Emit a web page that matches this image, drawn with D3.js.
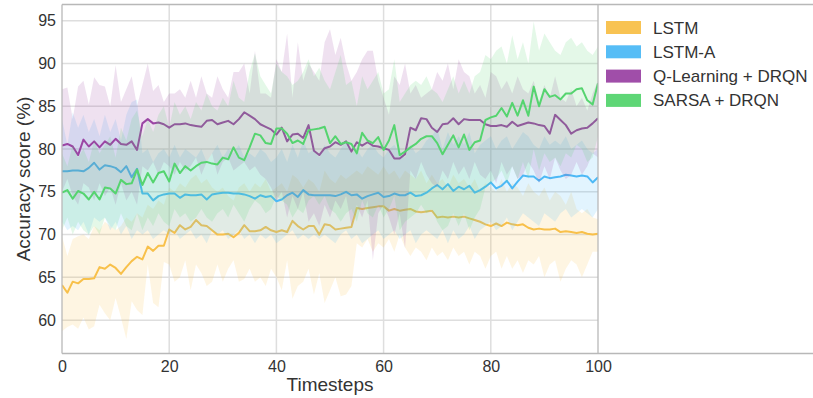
<!DOCTYPE html>
<html><head><meta charset="utf-8">
<script src="https://cdn.jsdelivr.net/npm/d3@7"></script>
<style>body{margin:0;background:#fff}svg{display:block}text{font-family:"Liberation Sans",Arial,sans-serif;fill:#333}</style>
</head><body><svg id="c" width="813" height="398"></svg>
<script>
const seriesNames = ["LSTM", "LSTM-A", "Q-Learning + DRQN", "SARSA + DRQN"];
const seriesColors = ["#f8c04a", "#4db9f6", "#9b45a4", "#55d46f"];
const xTicks = [0, 20, 40, 60, 80, 100];
const yTicks = [60, 65, 70, 75, 80, 85, 90, 95];

const lstmMean = [64.1,63.2,64.5,64.3,64.8,64.8,64.9,66.2,66.0,66.5,66.1,65.4,66.2,66.9,67.4,67.1,68.6,68.1,68.7,68.7,70.6,70.2,71.1,70.6,70.9,71.7,71.1,71.0,70.5,70.0,70.0,70.1,69.7,70.2,71.1,70.4,70.4,70.5,70.9,70.5,70.3,70.5,70.3,71.6,71.0,70.6,71.0,71.0,70.0,71.2,71.1,70.6,70.7,70.8,70.9,73.1,73.0,73.1,73.2,73.3,73.3,72.8,73.0,72.8,72.9,73.0,72.7,72.6,72.7,72.8,72.0,72.1,72.0,72.1,72.0,72.1,71.9,71.7,71.5,71.2,71.0,71.3,71.0,71.4,71.2,71.1,71.2,70.8,70.6,70.7,70.6,70.6,70.7,70.3,70.4,70.3,70.2,70.3,70.1,70.0,70.1];
const lstmLow = [58.7,59.2,59.5,59.0,60.3,58.9,59.3,61.8,60.8,60.0,62.6,60.3,57.8,62.2,61.2,60.6,66.5,62.0,61.5,66.8,66.5,64.5,65.0,67.0,63.5,66.5,65.5,64.0,64.5,66.5,64.5,66.0,67.0,64.5,64.8,66.0,64.5,65.0,64.0,66.0,65.0,63.5,67.0,62.5,64.0,64.5,66.0,63.0,65.5,62.0,63.5,65.0,62.8,63.0,64.0,69.0,68.5,69.5,68.0,69.0,68.5,69.5,68.0,70.0,68.5,67.5,68.5,68.0,67.0,68.5,67.5,68.0,67.0,68.5,67.5,68.0,66.5,68.0,67.5,66.0,67.5,68.0,66.0,67.5,66.0,67.0,65.5,67.0,66.5,67.5,65.0,66.5,67.0,64.5,66.0,67.0,66.5,65.0,66.5,68.0,68.0];
const lstmHigh = [69.8,67.5,69.5,69.8,70.0,69.5,71.0,70.5,71.5,71.0,70.5,71.0,72.0,71.5,72.5,72.0,73.5,73.0,74.0,73.5,75.5,75.0,76.0,75.5,76.5,77.0,76.0,76.5,75.5,75.0,75.5,74.5,74.0,75.5,76.0,75.0,76.0,75.5,76.5,75.0,75.5,76.0,75.0,77.0,76.5,75.5,76.5,76.0,75.0,77.5,76.5,76.0,77.0,76.5,77.0,77.5,77.0,78.0,77.5,77.0,78.0,77.0,77.5,76.5,77.5,77.0,76.5,77.5,76.0,77.0,76.0,76.5,75.5,77.0,76.0,76.5,75.5,76.5,75.0,76.0,75.5,75.0,76.5,75.0,76.0,75.5,74.5,76.0,75.0,74.5,75.5,74.0,75.0,74.5,73.5,75.0,73.0,72.5,73.0,72.0,71.8];

const lstmAMean = [77.4,77.4,77.5,77.5,77.4,77.8,78.4,77.6,78.1,78.0,77.8,77.3,78.0,76.7,77.7,74.8,74.8,74.0,74.5,74.7,74.8,74.8,74.3,74.7,74.6,74.6,74.7,74.1,74.7,74.8,74.9,74.9,74.8,74.8,74.7,74.5,74.2,74.6,74.4,74.5,73.9,74.1,74.6,74.9,74.4,75.2,74.7,74.6,74.6,74.6,74.6,74.5,74.7,75.0,74.6,74.7,74.2,74.5,74.7,74.9,74.4,74.5,74.8,74.6,74.6,74.9,74.5,74.6,74.9,75.4,75.8,75.3,75.9,75.1,75.6,75.3,75.7,74.9,75.2,75.6,76.1,75.4,75.7,76.3,75.4,76.2,76.9,76.8,76.8,76.3,76.8,76.6,76.7,76.8,77.0,76.9,76.8,76.9,76.8,76.1,76.7];
const lstmALow = [71.5,70.5,71.0,70.5,71.5,70.0,72.0,71.5,72.0,70.5,71.5,70.0,71.0,69.5,70.5,70.0,70.5,69.5,70.0,70.5,70.0,70.5,69.5,70.0,70.5,69.5,70.0,69.0,70.5,70.0,70.5,69.5,70.0,70.5,69.5,70.0,69.0,70.0,69.5,70.0,69.0,69.5,70.0,70.5,69.5,70.0,69.5,70.0,69.5,70.0,69.5,69.0,70.0,70.5,69.5,70.0,69.0,69.5,70.0,70.5,69.5,70.0,70.5,69.5,70.0,70.5,69.0,70.0,70.5,70.0,69.5,70.5,69.0,70.5,69.5,70.0,71.0,69.5,70.5,71.0,71.5,70.5,71.0,72.0,70.5,71.5,72.5,72.0,71.5,71.0,72.5,72.0,71.5,72.5,73.0,72.0,72.5,73.0,72.5,72.0,73.0];
const lstmAHigh = [83.5,80.5,84.3,82.5,84.0,82.0,83.5,81.5,84.0,82.0,83.5,81.0,84.0,85.5,85.8,79.5,80.0,78.5,79.5,80.0,79.0,80.5,79.0,80.0,79.5,79.0,80.0,78.5,79.5,80.5,79.0,80.0,79.5,80.5,79.0,79.5,79.0,80.0,79.5,78.5,79.0,80.0,78.5,80.5,79.0,81.0,79.5,80.0,79.0,80.5,79.5,79.0,80.0,81.0,79.5,80.0,79.0,80.0,80.5,79.5,79.0,80.0,80.5,79.5,79.0,80.5,79.5,80.0,81.0,81.5,82.5,80.0,82.0,80.5,81.5,80.5,82.0,79.5,80.5,81.0,81.5,80.0,81.0,81.5,80.0,81.0,82.0,81.5,80.5,80.0,81.5,80.5,81.0,80.5,81.5,80.0,80.5,81.0,80.0,79.5,80.0];

const qMean = [80.4,80.6,80.3,79.3,81.1,80.3,80.9,80.2,80.9,80.5,81.2,80.6,80.5,80.9,79.9,83.0,83.5,83.0,83.1,82.9,82.5,82.9,82.9,83.0,82.8,82.7,82.6,83.3,83.4,82.9,83.1,83.3,82.9,83.5,84.3,83.9,83.5,82.9,82.6,82.3,81.7,82.5,80.9,81.7,81.8,81.3,82.8,79.8,79.3,80.1,80.3,80.8,80.5,80.9,79.7,80.8,80.4,80.8,80.4,80.3,80.1,79.9,78.9,78.9,79.4,82.5,82.2,83.6,83.5,82.5,82.0,82.9,83.0,83.6,82.9,83.5,83.4,83.4,83.4,82.9,82.7,82.7,82.8,82.6,83.2,82.7,82.9,83.1,83.0,82.8,82.7,81.8,84.0,83.4,82.8,81.8,82.2,82.4,82.5,83.0,83.6];
const qLow = [75.0,76.5,74.5,73.5,76.0,75.5,74.0,76.0,74.5,75.5,73.5,76.0,74.0,75.0,73.5,78.0,77.5,78.5,77.0,78.5,78.0,77.0,78.5,77.5,78.0,79.0,77.0,78.5,79.5,77.0,78.5,79.0,77.5,78.0,78.5,77.5,78.0,77.0,76.5,75.5,74.0,75.0,72.0,74.5,73.0,75.0,71.5,72.5,71.0,73.5,72.0,74.0,73.0,74.5,71.0,73.5,72.0,74.0,67.0,72.5,73.5,72.0,70.0,72.5,68.4,77.5,76.5,78.5,77.0,76.0,75.5,77.5,76.5,78.5,77.0,78.0,76.5,78.5,77.0,76.5,77.5,76.0,78.5,77.0,78.0,76.5,77.0,78.5,77.5,76.0,78.0,76.5,79.0,77.5,76.5,77.0,78.5,77.0,78.0,79.5,79.0];
const qHigh = [87.0,87.2,83.5,87.3,88.0,85.2,88.4,87.5,87.3,85.0,89.8,85.5,87.0,88.5,85.0,87.5,90.0,86.8,87.5,85.5,86.5,86.5,87.0,86.0,88.0,86.0,88.5,86.5,86.0,88.5,87.0,86.0,89.0,89.0,90.0,86.5,91.5,86.5,86.5,86.0,90.5,89.0,93.5,86.0,92.5,88.0,90.0,89.0,88.0,92.5,94.0,91.0,93.0,90.0,88.0,89.0,90.5,91.5,91.5,88.0,86.0,84.0,88.5,87.5,90.0,86.5,87.5,86.0,86.5,87.0,89.0,88.0,90.0,87.0,90.5,89.0,88.5,86.5,87.5,86.0,89.0,88.5,87.0,88.0,86.5,88.5,87.0,86.5,88.0,85.5,87.5,86.0,88.5,86.0,85.5,87.0,85.0,86.0,84.5,86.5,88.0];

const sarsaMean = [74.9,75.2,74.2,75.1,74.8,74.1,75.0,74.1,75.5,75.4,74.8,76.4,75.9,76.0,77.6,75.8,77.2,76.1,77.2,77.4,76.2,78.3,77.2,78.0,77.5,78.0,78.4,78.5,78.3,78.2,79.0,78.8,80.2,79.0,78.7,80.2,81.8,81.6,80.7,80.6,82.4,82.4,81.8,80.7,81.0,80.6,82.2,82.3,82.4,82.6,80.7,81.5,80.6,80.8,80.6,79.5,81.9,81.0,80.7,81.4,79.9,81.0,82.8,79.3,79.7,80.2,80.6,81.2,81.5,81.5,80.7,79.4,80.5,81.6,80.2,81.7,79.9,80.8,81.0,83.4,83.7,83.9,84.8,83.8,85.4,83.9,85.7,83.9,87.3,85.0,87.0,86.1,86.3,85.8,86.5,86.5,87.0,87.1,85.7,85.2,87.7];
const sarsaLow = [70.5,72.0,70.0,71.5,70.5,70.0,71.0,70.0,72.0,71.0,70.5,72.5,71.0,70.5,72.5,70.5,72.0,71.0,72.5,71.5,71.0,73.0,72.0,72.5,71.5,72.0,73.0,72.0,71.5,72.5,73.0,72.0,73.5,72.5,71.5,73.0,74.0,73.5,72.5,73.0,74.5,74.0,73.5,72.0,73.0,72.5,74.0,74.5,73.5,74.5,73.0,72.5,71.5,72.5,73.0,71.5,74.0,72.5,72.0,73.5,72.0,73.0,74.5,70.5,71.5,72.0,72.5,73.5,72.5,73.0,71.5,70.5,71.0,72.5,71.0,72.5,70.5,72.0,73.0,75.5,76.0,76.5,77.5,76.0,78.0,76.5,78.5,76.5,80.0,77.5,79.5,78.5,79.0,78.0,79.5,79.0,80.5,80.0,78.5,79.0,81.5];
const sarsaHigh = [79.5,78.0,80.5,79.0,80.0,78.5,81.0,79.5,80.5,81.5,79.0,82.5,81.0,83.5,84.5,81.5,83.5,82.0,84.0,85.0,82.5,85.5,84.0,85.0,83.5,85.5,84.5,86.5,85.0,84.5,86.0,85.0,88.0,86.0,85.5,89.0,91.2,88.5,87.5,86.5,90.0,89.0,88.5,87.5,88.0,89.0,90.5,88.5,89.5,88.0,87.0,89.0,91.0,87.5,88.0,85.0,88.5,87.0,88.0,89.0,86.5,87.0,90.5,85.5,86.5,87.5,88.0,87.5,88.5,87.0,86.5,85.5,87.0,88.5,86.5,88.0,86.5,88.5,89.0,91.0,90.5,91.5,92.0,90.0,93.3,90.5,92.5,90.0,94.9,91.5,93.5,92.5,91.5,91.0,92.5,93.0,92.0,92.5,91.5,91.0,92.0];

const series = [
  {mean: lstmMean, low: lstmLow, high: lstmHigh},
  {mean: lstmAMean, low: lstmALow, high: lstmAHigh},
  {mean: qMean, low: qLow, high: qHigh},
  {mean: sarsaMean, low: sarsaLow, high: sarsaHigh}
];

(function () {
const svg = d3.select("#c");
const pL = 62, pR = 598, pT = 4.5, pB = 353.5;
const x = d3.scaleLinear().domain([0, 100]).range([pL, pR]);
const y = d3.scaleLinear().domain([56.1, 96.9]).range([pB, pT]);

const g = svg.append("g");
g.selectAll(".hg").data(yTicks).join("line")
  .attr("x1", pL).attr("x2", pR).attr("y1", d => y(d)).attr("y2", d => y(d))
  .attr("stroke", "#dedede").attr("stroke-width", 1.5);
g.selectAll(".vg").data(xTicks.slice(1, -1)).join("line")
  .attr("y1", pT).attr("y2", pB).attr("x1", d => x(d)).attr("x2", d => x(d))
  .attr("stroke", "#dedede").attr("stroke-width", 1.5);

svg.append("clipPath").attr("id", "pc").append("rect")
  .attr("x", pL).attr("y", pT).attr("width", pR - pL).attr("height", pB - pT);
const plot = svg.append("g").attr("clip-path", "url(#pc)");

series.forEach((s, i) => {
  const pts = s.mean.map((m, t) => ({t, m, lo: s.low[t], hi: s.high[t]}));
  plot.append("path").datum(pts)
    .attr("d", d3.area().x(d => x(d.t)).y0(d => y(d.lo)).y1(d => y(d.hi)))
    .attr("fill", seriesColors[i]).attr("fill-opacity", 0.16);
  plot.append("path").datum(pts)
    .attr("d", d3.line().x(d => x(d.t)).y(d => y(d.m)))
    .attr("fill", "none").attr("stroke", seriesColors[i]).attr("stroke-width", 2)
    .attr("stroke-linejoin", "round");
});

const frameColor = "#b8b8b8";
const fl = (x1, y1, x2, y2) => svg.append("line").attr("x1", x1).attr("y1", y1).attr("x2", x2).attr("y2", y2)
  .attr("stroke", frameColor).attr("stroke-width", 1.3);
fl(pL, pT, 813, pT);
fl(pL, pB, 813, pB);
fl(pL, pT, pL, pB);
fl(pR, pT, pR, pB);

const font = '"Liberation Sans",Arial,sans-serif';
const xa = svg.append("g").attr("transform", `translate(0,${pB})`)
  .call(d3.axisBottom(x).tickValues(xTicks).tickSize(0).tickPadding(7).tickFormat(d3.format("d")));
xa.select(".domain").remove();
xa.selectAll("text").style("font-size", "16px").attr("fill", "#333").style("font-family", font);
const ya = svg.append("g").attr("transform", `translate(${pL},0)`)
  .call(d3.axisLeft(y).tickValues(yTicks).tickSize(0).tickPadding(6).tickFormat(d3.format("d")));
ya.select(".domain").remove();
ya.selectAll("text").style("font-size", "16px").attr("fill", "#333").style("font-family", font);

svg.append("text").attr("x", (pL + pR) / 2).attr("y", 391).attr("text-anchor", "middle")
  .style("font-size", "19px").text("Timesteps");
svg.append("text").attr("transform", `translate(30,${(pT + pB) / 2}) rotate(-90)`).attr("text-anchor", "middle")
  .style("font-size", "19px").text("Accuracy score (%)");

const lg = svg.append("g");
seriesNames.forEach((n, i) => {
  const cy = 27.5 + i * 24.3;
  lg.append("rect").attr("x", 606).attr("y", cy - 6.5).attr("width", 35).attr("height", 13)
    .attr("fill", seriesColors[i]).attr("fill-opacity", 0.95);
  lg.append("text").attr("x", 653).attr("y", cy + 6).style("font-size", "17px").text(n);
});
})();
</script></body></html>
